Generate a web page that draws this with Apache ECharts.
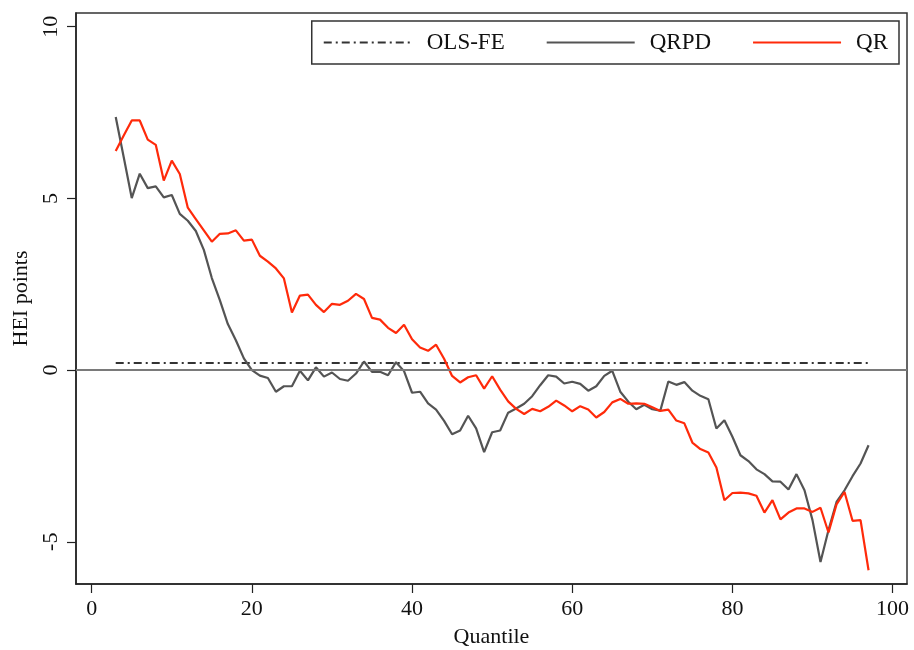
<!DOCTYPE html>
<html>
<head>
<meta charset="utf-8">
<script src="https://cdn.jsdelivr.net/npm/echarts@6/dist/echarts.min.js"></script>
<style>
html,body{margin:0;padding:0;background:#fff;}
#chart{width:914px;height:650px;}
</style>
</head>
<body>
<div id="chart"></div>
<script>
// Quantiles 3..97
const quantiles = [3,4,5,6,7,8,9,10,11,12,13,14,15,16,17,18,19,20,21,22,23,24,25,26,27,28,29,30,31,32,33,34,35,36,37,38,39,40,41,42,43,44,45,46,47,48,49,50,51,52,53,54,55,56,57,58,59,60,61,62,63,64,65,66,67,68,69,70,71,72,73,74,75,76,77,78,79,80,81,82,83,84,85,86,87,88,89,90,91,92,93,94,95,96,97];

const qrValues = [6.38,6.83,7.27,7.27,6.71,6.56,5.52,6.10,5.71,4.73,4.40,4.07,3.74,3.97,3.98,4.07,3.77,3.80,3.33,3.16,2.96,2.67,1.68,2.17,2.20,1.90,1.69,1.93,1.90,2.02,2.22,2.07,1.52,1.47,1.23,1.08,1.32,0.90,0.66,0.56,0.74,0.33,-0.17,-0.36,-0.21,-0.15,-0.54,-0.18,-0.57,-0.91,-1.13,-1.28,-1.13,-1.20,-1.07,-0.89,-1.03,-1.20,-1.05,-1.15,-1.38,-1.22,-0.94,-0.84,-0.98,-0.97,-0.98,-1.08,-1.19,-1.15,-1.47,-1.55,-2.11,-2.30,-2.40,-2.84,-3.79,-3.58,-3.57,-3.59,-3.66,-4.15,-3.79,-4.35,-4.15,-4.03,-4.03,-4.13,-4.01,-4.73,-3.91,-3.55,-4.39,-4.37,-5.83];

const qrpdValues = [7.37,6.20,5.01,5.72,5.30,5.35,5.03,5.10,4.55,4.35,4.05,3.50,2.68,2.04,1.34,0.87,0.34,0.00,-0.16,-0.23,-0.63,-0.47,-0.47,-0.02,-0.30,0.08,-0.19,-0.07,-0.26,-0.31,-0.10,0.25,-0.05,-0.05,-0.15,0.23,-0.03,-0.66,-0.63,-0.97,-1.15,-1.48,-1.87,-1.76,-1.33,-1.70,-2.39,-1.81,-1.76,-1.24,-1.12,-0.98,-0.76,-0.44,-0.15,-0.19,-0.39,-0.34,-0.40,-0.60,-0.47,-0.17,-0.02,-0.63,-0.92,-1.14,-1.01,-1.14,-1.18,-0.33,-0.43,-0.35,-0.60,-0.75,-0.85,-1.70,-1.46,-1.94,-2.48,-2.65,-2.89,-3.03,-3.24,-3.25,-3.48,-3.03,-3.50,-4.37,-5.59,-4.66,-3.84,-3.50,-3.09,-2.72,-2.19];

const olsFeEstimate = 0.21;

const xTickLabels = [0,20,40,60,80,100];
const yTickLabels = [-5,0,5,10];

const seriesNames = ['OLS-FE','QRPD','QR'];

const FONT = 'Liberation Serif';

const pair = (xs, ys) => xs.map((x,i)=>[x, ys[i]]);
const olsData = [[quantiles[0], olsFeEstimate],[quantiles[quantiles.length-1], olsFeEstimate]];

const chart = echarts.init(document.getElementById('chart'), null, {renderer:'canvas'});
chart.setOption({
  animation:false,
  backgroundColor:'#ffffff',
  textStyle:{fontFamily:FONT},
  grid:{left:76, right:7, top:13, bottom:66, show:true, borderColor:'#333', borderWidth:1.5, backgroundColor:'transparent', containLabel:false, outerBoundsMode:'none'},
  legend:{
    data:seriesNames,
    right:15, top:21,
    orient:'horizontal',
    borderColor:'#333', borderWidth:1.5,
    padding:[10,11,10,11],
    itemWidth:88, itemHeight:14, itemGap:41,
    itemStyle:{opacity:0},
    textStyle:{fontFamily:FONT, fontSize:23, color:'#111', padding:[0,0,0,10]},
    selectedMode:false
  },
  xAxis:{
    type:'value', min:-1.96, max:101.8,
    name:'Quantile', nameLocation:'middle', nameGap:42,
    nameTextStyle:{fontFamily:FONT, fontSize:22, color:'#111'},
    axisLine:{show:true, onZero:false, lineStyle:{color:'#222', width:1.5}},
    axisTick:{show:true, length:9, customValues:xTickLabels, lineStyle:{color:'#222', width:1.2}},
    axisLabel:{customValues:xTickLabels, fontFamily:FONT, fontSize:22, color:'#111', margin:14},
    splitLine:{show:false}
  },
  yAxis:{
    type:'value', min:-6.23, max:10.4,
    name:'HEI points', nameLocation:'middle', nameGap:38, nameRotate:90,
    nameTextStyle:{fontFamily:FONT, fontSize:22, color:'#111'},
    axisLine:{show:true, onZero:false, lineStyle:{color:'#222', width:1.5}},
    axisTick:{show:true, length:9, customValues:yTickLabels, lineStyle:{color:'#222', width:1.2}},
    axisLabel:{customValues:yTickLabels, rotate:90, fontFamily:FONT, fontSize:22, color:'#111', margin:14},
    splitLine:{show:false}
  },
  series:[
    {
      name:'OLS-FE', type:'line', data:olsData, symbol:'none', silent:true,
      lineStyle:{color:'#333', width:2, type:[8,4,2,4]},
      itemStyle:{color:'#333'},
      markLine:{
        silent:true, symbol:'none', label:{show:false},
        lineStyle:{color:'#7a7a7a', width:2, type:'solid'},
        data:[{yAxis:0}]
      },
      z:2
    },
    {
      name:'QRPD', type:'line', data:pair(quantiles, qrpdValues), symbol:'none', silent:true,
      lineStyle:{color:'#545454', width:2.2}, itemStyle:{color:'#545454'}, z:3
    },
    {
      name:'QR', type:'line', data:pair(quantiles, qrValues), symbol:'none', silent:true,
      lineStyle:{color:'#ff2a0a', width:2.2}, itemStyle:{color:'#ff2a0a'}, z:4
    }
  ]
});
</script>
</body>
</html>
